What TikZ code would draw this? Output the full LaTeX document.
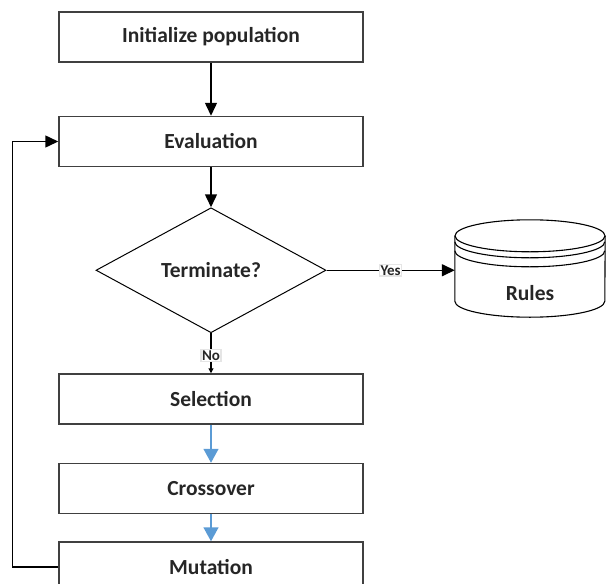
\documentclass[tikz,border=0pt]{standalone}
\usepackage{fontspec}
\setmainfont{Carlito}
\usetikzlibrary{shapes.geometric,arrows.meta,positioning}
\definecolor{flowblue}{HTML}{5B9BD5}

\begin{document}
\begin{tikzpicture}[
      x=1pt, y=-1pt,
      node distance=40pt, % default spacing between steps
      block/.style={
          rectangle,
          draw=black!75,
          line width=1.5pt,
          minimum width=304pt,
          minimum height=50pt,
          inner sep=0pt,
          text=black!85,
          font=\fontsize{21.5}{25}\selectfont\bfseries
      },
      decision/.style={
          diamond,
          draw=black,
          line width=1pt,
          minimum width=230pt,
          minimum height=125pt,
          inner sep=0pt,
          text=black!85,
          font=\fontsize{21.5}{25}\selectfont\bfseries
      },
      store/.style={rectangle, minimum width=150pt, minimum height=97pt, inner sep=0pt},
      storeline/.style={draw=black, line width=1.1pt},
      storetext/.style={text=black!85, font=\fontsize{21.5}{25}\selectfont\bfseries},
      tag/.style={fill=white, draw=black!10, inner sep=1pt, text=black!85,
          font=\fontsize{15}{16}\selectfont\bfseries},
      arrow/.style={-{Triangle[length=13pt, width=12pt]}, line width=1.5pt, draw=black},
      smallarrow/.style={-{Triangle[length=5pt, width=5pt]}, line width=1.1pt, draw=black},
      bluearrow/.style={-{Triangle[length=14pt, width=15pt]}, line width=1.5pt, draw=flowblue}
  ]
      \useasboundingbox (0,0) rectangle (606,584);

      % Nodes
      \node (init) [block] at (211,37) {Initialize population};
      \node (eval) [block, below=53pt of init] {Evaluation};
      \node (term) [decision, below=of eval] {Terminate?};
      \node (select) [block, below=of term] {Selection};
      \node (cross) [block, below=38pt of select] {Crossover};
      \node (mutate) [block, below=27pt of cross] {Mutation};
      \node (rules) [store] at (530,268.5) {};
      \node (rulestext) [storetext] at ([yshift=-24.5pt]rules.center) {Rules};
      \coordinate (loop) at ([xshift=-46pt]mutate.west);

      % Database drum
      \draw [storeline] ([yshift=-16pt]rules.north) ellipse [x radius=75pt, y radius=16pt];
      \draw [storeline] ([yshift=-22pt]rules.north west) arc [start angle=180, end angle=360, x radius=75pt, y radius=16pt];
      \draw [storeline] ([yshift=-31pt]rules.north west) arc [start angle=180, end angle=360, x radius=75pt, y radius=16pt];
      \draw [storeline] ([yshift=-16pt]rules.north west) -- ([yshift=16pt]rules.south west)
          arc [start angle=180, end angle=360, x radius=75pt, y radius=16pt]
          -- ([yshift=-16pt]rules.north east);

      % Arrows with labels
      \draw [arrow] (init) -- (eval);
      \draw [arrow] (eval) -- (term);
      \draw [arrow] (term.east) -- node[tag, pos=0.5] {Yes} (term.east -| rules.west);
      \draw [smallarrow] (term.south) -- node[tag, pos=0.55] {No} (select.north);
      \draw [bluearrow] (select) -- (cross);
      \draw [bluearrow] (cross) -- (mutate);
      \draw [arrow] (mutate.west) -- (loop) |- (eval.west);
  \end{tikzpicture}
\end{document}
